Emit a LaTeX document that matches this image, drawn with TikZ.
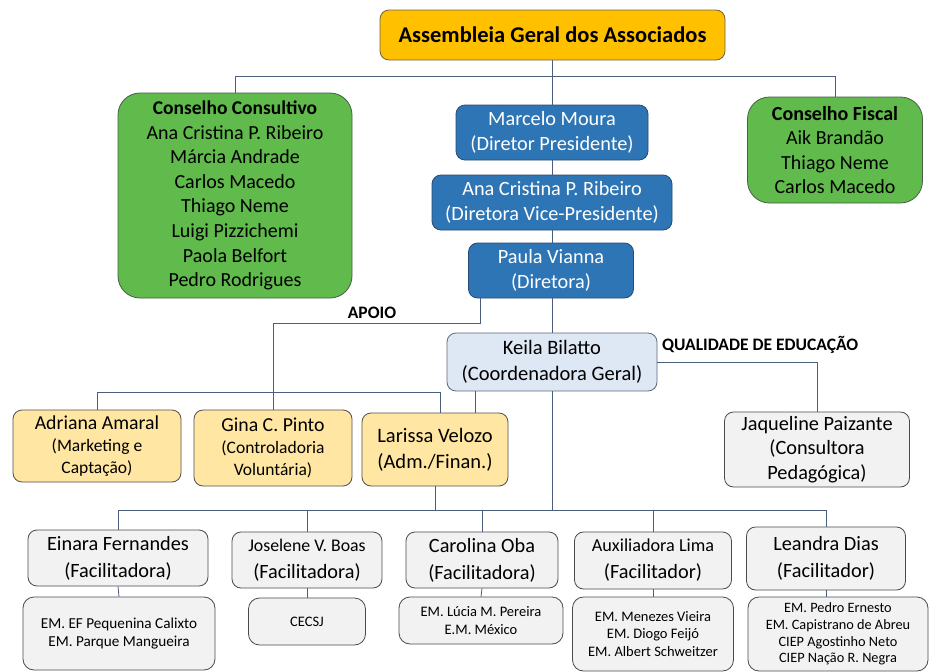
\documentclass[tikz,border=0pt]{standalone}
\usepackage{fontspec}
\setmainfont{Carlito}
\usetikzlibrary{calc}
\definecolor{gold}{RGB}{255,192,0}
\definecolor{goldb}{RGB}{110,100,70}
\definecolor{grn}{RGB}{96,186,76}
\definecolor{grnb}{RGB}{70,95,70}
\definecolor{blu}{RGB}{46,117,182}
\definecolor{blub}{RGB}{40,75,115}
\definecolor{lblu}{RGB}{222,231,244}
\definecolor{lblub}{RGB}{95,105,125}
\definecolor{ylw}{RGB}{255,230,162}
\definecolor{ylwb}{RGB}{80,80,80}
\definecolor{gry}{RGB}{242,242,242}
\definecolor{gryb}{RGB}{75,75,75}
\definecolor{wire}{RGB}{75,95,125}
\begin{document}
\begin{tikzpicture}[x=1pt,y=-1pt,
  box/.style={draw, rounded corners=9pt, align=center, inner sep=0pt, line width=0.8pt},
  sz/.style n args={2}{minimum width=#1, minimum height=#2},
  topbox/.style={box, fill=gold, draw=goldb, font=\fontsize{22.5}{26}\selectfont\bfseries},
  council/.style={box, fill=grn, draw=grnb, rounded corners=22pt, font=\fontsize{20}{24.6}\selectfont},
  dirbox/.style={box, fill=blu, draw=blub, text=white, font=\fontsize{20.3}{25}\selectfont},
  coordbox/.style={box, fill=lblu, draw=lblub, font=\fontsize{20.5}{26}\selectfont},
  supbox/.style={box, fill=ylw, draw=ylwb, font=\fontsize{17.5}{22}\selectfont},
  facbox/.style={box, fill=gry, draw=gryb, font=\fontsize{20.3}{27}\selectfont},
  schbox/.style={box, fill=gry, draw=gryb, rounded corners=11pt, font=\fontsize{14.5}{17.2}\selectfont},
  wireline/.style={draw=wire, line width=0.8pt},
  lbl/.style={font=\fontsize{17.5}{20}\selectfont\bfseries, inner sep=0pt}
]
\fill[white] (0,0) rectangle (930,672);
\useasboundingbox (0,0) rectangle (930,672);

% top
\node[topbox, sz={345}{50}] (asm) at (552.5,35) {Assembleia Geral dos Associados};

% councils
\node[council, sz={234}{205}] (cc) at (235,195.5) {{\fontsize{19.5}{24.6}\selectfont\bfseries Conselho Consultivo}\\Ana Cristina P. Ribeiro\\Márcia Andrade\\Carlos Macedo\\Thiago Neme\\Luigi Pizzichemi\\Paola Belfort\\Pedro Rodrigues};
\node[council, sz={175}{106}] (cf) at (835,150) {\textbf{Conselho Fiscal}\\Aik Brandão\\Thiago Neme\\Carlos Macedo};

% directors
\node[dirbox, sz={192}{55}] (marcelo) at (552,132.5) {Marcelo Moura\\(Diretor Presidente)};
\node[dirbox, sz={240}{55}] (ana) at (552,202.5) {Ana Cristina P. Ribeiro\\(Diretora Vice-Presidente)};
\node[dirbox, sz={165}{55}] (paula) at (551,270.5) {Paula Vianna\\(Diretora)};

% coordination
\node[coordbox, sz={210}{58}] (keila) at (552,362) {Keila Bilatto\\(Coordenadora Geral)};

% support
\node[supbox, sz={168}{72}] (adriana) at (97,446) {{\fontsize{19.8}{22}\selectfont Adriana Amaral}\\(Marketing e\\Captação)};
\node[supbox, sz={158}{76}] (gina) at (273,448) {{\fontsize{19.8}{22}\selectfont Gina C. Pinto}\\(Controladoria\\Voluntária)};
\node[supbox, sz={146}{73}, font=\fontsize{20.5}{26}\selectfont] (larissa) at (435,449.5) {Larissa Velozo\\(Adm./Finan.)};
\node[facbox, sz={185}{75}, font=\fontsize{20.3}{24.5}\selectfont] (jaq) at (817,449.5) {Jaqueline Paizante\\(Consultora\\Pedagógica)};

% facilitators
\node[facbox, sz={180}{56}] (einara) at (118,558) {Einara Fernandes\\(Facilitadora)};
\node[facbox, sz={150}{56}] (joselene) at (307,560) {{\fontsize{17.8}{27}\selectfont Joselene V. Boas}\\(Facilitadora)};
\node[facbox, sz={152}{56}] (carolina) at (482,560) {Carolina Oba\\(Facilitadora)};
\node[facbox, sz={157}{57}] (aux) at (653,560.5) {{\fontsize{18.2}{27}\selectfont Auxiliadora Lima}\\(Facilitador)};
\node[facbox, sz={159}{63}] (leandra) at (826,558.5) {Leandra Dias\\(Facilitador)};

% schools
\node[schbox, sz={192}{73}, font=\fontsize{15.2}{18}\selectfont] (s1) at (119,633.5) {EM. EF Pequenina Calixto\\EM. Parque Mangueira};
\node[schbox, sz={117}{47}] (s2) at (307,621.5) {CECSJ};
\node[schbox, sz={164}{47}] (s3) at (481,620.5) {EM. Lúcia M. Pereira\\E.M. México};
\node[schbox, sz={161}{74}] (s4) at (653,634) {EM. Menezes Vieira\\EM. Diogo Feijó\\EM. Albert Schweitzer};
\node[schbox, sz={180}{74}, font=\fontsize{14.3}{16.6}\selectfont] (s5) at (838,634) {EM. Pedro Ernesto\\EM. Capistrano de Abreu\\CIEP Agostinho Neto\\CIEP Nação R. Negra};

% labels
\node[lbl] (apoio) at (372,313) {APOIO};
\node[lbl, anchor=west] (qual) at (662,345) {QUALIDADE DE EDUCAÇÃO};

% connectors
\coordinate (bus) at (0,510);
\draw[wireline] (asm.south) -- (asm.south |- marcelo.north);
\draw[wireline] (cc.north) -- ++(0,-16) -| (cf.north);
\draw[wireline] (marcelo.south) -- (marcelo.south |- ana.north);
\draw[wireline] (ana.south) -- (ana.south |- paula.north);
\draw[wireline] (keila.north) -- (keila.north |- paula.south);
\draw[wireline] ([xshift=-71pt]paula.south) -- ++(0,25) -| (gina.north);
\draw[wireline] ([xshift=5pt]larissa.north) -- ++(0,-20) -| (adriana.north);
\draw[wireline] ([xshift=-77pt]keila.south) -- ([xshift=-77pt]keila.south |- larissa.north);
\draw[wireline] (keila.east) -| (jaq.north);
\draw[wireline] (keila.south) -- (keila.south |- bus);
\draw[wireline] (larissa.south) -- (larissa.south |- bus);
\draw[wireline] (einara.north) -- (einara.north |- bus) -| (leandra.north);
\draw[wireline] (joselene.north) -- (joselene.north |- bus);
\draw[wireline] (carolina.north) -- (carolina.north |- bus);
\draw[wireline] (aux.north) -- (aux.north |- bus);
\draw[wireline] (einara.south) -- (s1.north);
\draw[wireline] (joselene.south) -- (s2.north);
\draw[wireline] (carolina.south) -- (s3.north);
\draw[wireline] (aux.south) -- (s4.north);
\draw[wireline] (leandra.south) -- (leandra.south |- s5.north);
\end{tikzpicture}
\end{document}
